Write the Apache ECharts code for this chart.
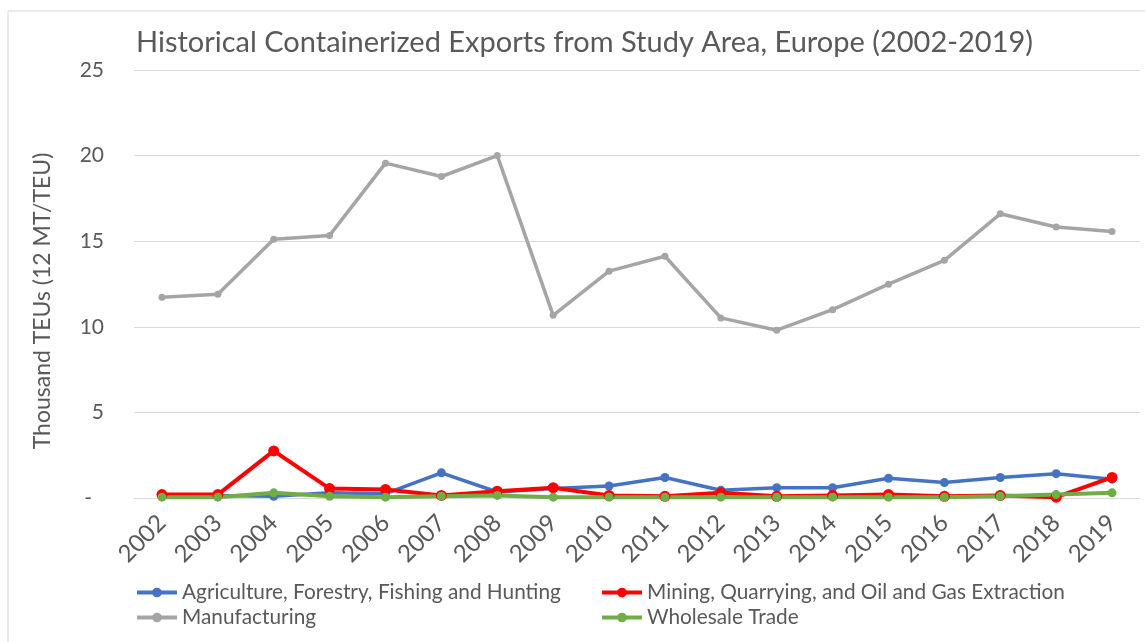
<!DOCTYPE html>
<html>
<head>
<meta charset="utf-8">
<script src="https://cdn.jsdelivr.net/npm/echarts@6/dist/echarts.min.js"></script>
<style>
  html, body { margin: 0; padding: 0; background: #ffffff; }
  #chart { width: 1145px; height: 642px; }
</style>
</head>
<body>
<div id="chart"></div>
<script>
// Years on the category axis
const years = ['2002','2003','2004','2005','2006','2007','2008','2009','2010',
               '2011','2012','2013','2014','2015','2016','2017','2018','2019'];

// Thousand TEUs by commodity group
const agriculture = [0.15, 0.15, 0.1, 0.3, 0.25, 1.47, 0.35, 0.55, 0.7,
                     1.2, 0.45, 0.6, 0.6, 1.15, 0.9, 1.2, 1.42, 1.1];
const mining = [0.2, 0.2, 2.75, 0.55, 0.5, 0.15, 0.4, 0.6, 0.15,
                0.1, 0.3, 0.1, 0.15, 0.2, 0.1, 0.15, 0.05, 1.2];
const manufacturing = [11.73, 11.9, 15.12, 15.34, 19.56, 18.78, 20.0, 10.67, 13.25,
                       14.12, 10.52, 9.8, 11.0, 12.49, 13.88, 16.6, 15.83, 15.57];
const wholesale = [0.05, 0.05, 0.3, 0.1, 0.05, 0.1, 0.15, 0.05, 0.05,
                   0.05, 0.05, 0.05, 0.05, 0.05, 0.05, 0.1, 0.2, 0.3];

// Y axis ticks
const yTicks = [0, 5, 10, 15, 20, 25];

const names = {
  agri: 'Agriculture, Forestry, Fishing and Hunting',
  mining: 'Mining, Quarrying, and Oil and Gas Extraction',
  manuf: 'Manufacturing',
  whole: 'Wholesale Trade'
};

const FONT = 'Lato';
const TEXT = '#595959';
const GRID = '#d9d9d9';

const chart = echarts.init(document.getElementById('chart'), null, { renderer: 'canvas' });

function lineSeries(name, data, color, width, size) {
  return {
    name: name,
    type: 'line',
    data: data,
    symbol: 'circle',
    symbolSize: size,
    showSymbol: true,
    lineStyle: { color: color, width: width },
    itemStyle: { color: color },
    emphasis: { disabled: true },
    animation: false
  };
}

function legendBlock(left, items) {
  return {
    orient: 'vertical',
    left: left,
    top: 577,
    itemWidth: 40,
    itemHeight: 12,
    itemGap: 4,
    data: items,
    lineStyle: { width: 4 },
    textStyle: { fontFamily: FONT, fontSize: 20.8, color: TEXT },
    selectedMode: false
  };
}

chart.setOption({
  backgroundColor: '#ffffff',
  textStyle: { fontFamily: FONT },
  title: {
    text: 'Historical Containerized Exports from Study Area, Europe (2002-2019)',
    left: 131,
    top: 23,
    textStyle: { fontFamily: FONT, fontSize: 29, fontWeight: 'normal', color: TEXT }
  },
  graphic: [{
    type: 'rect',
    shape: { x: 8, y: 11, width: 1200, height: 700 },
    style: { fill: 'none', stroke: GRID, lineWidth: 1 },
    silent: true,
    z: -1
  }],
  grid: { left: 134, right: 5, top: 70, bottom: 144, containLabel: false },
  legend: [
    legendBlock(130, [names.agri, names.manuf]),
    legendBlock(595, [names.mining, names.whole])
  ],
  xAxis: {
    type: 'category',
    data: years,
    boundaryGap: true,
    axisLine: { show: true, lineStyle: { color: GRID, width: 1 } },
    axisTick: { show: false },
    axisLabel: {
      rotate: 45,
      interval: 0,
      margin: 21,
      fontFamily: FONT,
      fontSize: 24,
      color: TEXT
    }
  },
  yAxis: {
    type: 'value',
    min: yTicks[0],
    max: yTicks[yTicks.length - 1],
    interval: 5,
    name: 'Thousand TEUs (12 MT/TEU)',
    nameLocation: 'middle',
    nameRotate: 90,
    nameGap: 80,
    nameTextStyle: { fontFamily: FONT, fontSize: 23, color: TEXT, padding: [0, 34, 0, 0] },
    axisLine: { show: false },
    axisTick: { show: false },
    splitLine: { show: true, lineStyle: { color: GRID, width: 1 } },
    axisLabel: {
      margin: 30,
      fontFamily: FONT,
      fontSize: 21,
      color: TEXT,
      formatter: function (v) { return v === 0 ? '{d|-}' : String(v); },
      rich: { d: { fontFamily: FONT, fontSize: 21, color: TEXT, padding: [0, 12, 0, 0] } }
    }
  },
  series: [
    lineSeries(names.agri, agriculture, '#4472C4', 3.5, 9),
    lineSeries(names.mining, mining, '#FF0000', 4, 11),
    lineSeries(names.manuf, manufacturing, '#A5A5A5', 3.5, 7),
    lineSeries(names.whole, wholesale, '#70AD47', 4, 9)
  ]
});
</script>
</body>
</html>
